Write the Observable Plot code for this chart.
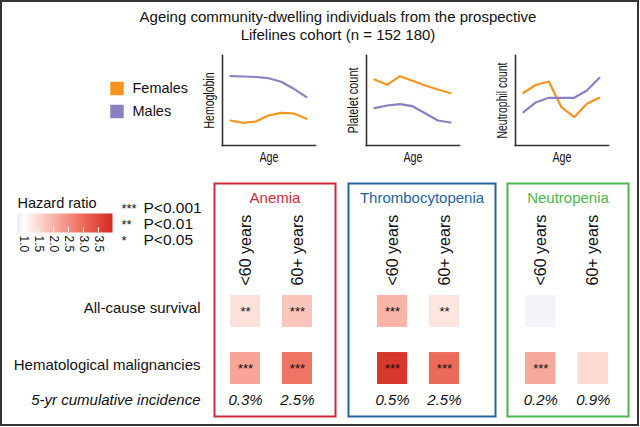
<!DOCTYPE html>
<html><head><meta charset="utf-8">
<script src="https://cdn.jsdelivr.net/npm/d3@7"></script>
<script src="https://cdn.jsdelivr.net/npm/@observablehq/plot@0.6"></script>
<style>
html,body{margin:0;padding:0;background:#fff;}
#wrap{position:relative;width:640px;height:427px;overflow:hidden;font-family:"Liberation Sans",Arial,sans-serif;color:#111;background:#fff;}
#wrap svg{position:absolute;left:0;top:0;}
#frame{position:absolute;left:0;top:0;width:639px;height:426px;box-sizing:border-box;border:2px solid #333;pointer-events:none;}
#title{position:absolute;left:38px;top:8px;width:600px;text-align:center;font-size:15px;line-height:18px;}
</style></head><body>
<div id="wrap"><div id="frame"></div><div id="title">Ageing community-dwelling individuals from the prospective<br>Lifelines cohort (n = 152 180)</div></div>
<script>
// ---------- data ----------
const sexes = ["Females", "Males"];
const ageSteps = [0, 1, 2, 3, 4, 5, 6];
const traits = ["Hemoglobin", "Platelet count", "Neutrophil count"];
const hbFemales = [25, 22.7, 24, 30, 32.7, 32, 26.7];
const hbMales = [69.3, 69, 68.5, 67.3, 63.7, 56.7, 48.3];
const pltFemales = [66, 60.7, 69.3, 64.7, 60, 56, 52.3];
const pltMales = [37.3, 40, 41.3, 39.3, 32.3, 25, 23];
const neuFemales = [52.7, 60.7, 64, 38.3, 28.3, 41.7, 47.7];
const neuMales = [33.3, 43.3, 47.7, 47.7, 47.7, 55, 67.7];

const diseases = ["Anemia", "Thrombocytopenia", "Neutropenia"];
const ageGroups = ["<60 years", "60+ years"];
const outcomes = ["All-cause survival", "Hematological malignancies"];
// order: Anemia <60, Anemia 60+, Thrombo <60, Thrombo 60+, Neutro <60, Neutro 60+
const hrAllCause = [1.4, 1.77, 2.0, 1.35, 0.9, null];
const hrHeme = [2.2, 2.86, 3.77, 3.0, 2.15, 1.5];
const starsAllCause = ["**", "***", "***", "**", "", ""];
const starsHeme = ["***", "***", "***", "***", "***", ""];
const incidence = ["0.3%", "2.5%", "0.5%", "2.5%", "0.2%", "0.9%"];

const hrTicks = [1.0, 1.5, 2.0, 2.5, 3.0, 3.5];
const sigStars = ["***", "**", "*"];
const sigLabels = ["P<0.001", "P<0.01", "P<0.05"];

// ---------- styles ----------
const W = 640, H = 427;
const FONT = '"Liberation Sans", Arial, Helvetica, sans-serif';
const sexColor = {domain: sexes, range: ["#f7941d", "#8b80c3"]};
const hrColor = {type: "linear", domain: [0.8, 1, 2, 3, 3.97],
  range: ["#e6e6f2", "#ffffff", "#f8b4a6", "#ec6a59", "#d32a20"], interpolate: "rgb"};
const diseaseColors = ["#cf2a3c", "#23649e", "#4bb74c"];
const traitLabelLengths = [56, 66, 76];
const wrap = document.getElementById("wrap");
function base(extra) {
  return Object.assign({width: W, height: H,
    style: {fontFamily: FONT, background: "transparent", overflow: "visible"}}, extra);
}
function add(svg) { wrap.appendChild(svg); return svg; }
// condense a text (the reference uses a narrow face)
function condense(svg, str, len) {
  d3.select(svg).selectAll("text").filter(function() { return this.textContent === str; })
    .attr("textLength", len).attr("lengthAdjust", "spacingAndGlyphs");
}

// ---------- mini trend charts ----------
const trendSets = [[hbFemales, hbMales], [pltFemales, pltMales], [neuFemales, neuMales]];
const axisLefts = [222, 366, 515];
traits.forEach((trait, i) => {
  const left = axisLefts[i];
  const rows = [];
  sexes.forEach((s, j) => trendSets[i][j].forEach((v, k) => rows.push({sex: s, step: ageSteps[k], value: v})));
  const svg = add(Plot.plot(base({
    marginLeft: left, marginRight: W - left - 93, marginTop: 55, marginBottom: H - 145,
    x: {domain: [0, 6], insetLeft: 8, insetRight: 9, axis: null},
    y: {domain: [0, 90], axis: null},
    color: sexColor,
    marks: [
      Plot.frame({anchor: "left", stroke: "#333", strokeWidth: 1.6}),
      Plot.frame({anchor: "bottom", stroke: "#333", strokeWidth: 1.6}),
      Plot.line(rows, {x: "step", y: "value", z: "sex", stroke: "sex", strokeWidth: 2.2}),
      Plot.text([trait], {frameAnchor: "left", dx: -13, rotate: -90, textAnchor: "middle", lineAnchor: "middle",
        fontSize: 14.5, fill: "#111"}),
      Plot.text(["Age"], {frameAnchor: "bottom", dy: 12, textAnchor: "middle", lineAnchor: "middle",
        fontSize: 14, fill: "#111"})
    ]
  })));
  condense(svg, trait, traitLabelLengths[i]);
  condense(svg, "Age", 19);
});

// ---------- sex legend ----------
add(Plot.plot(base({
  marginLeft: 116.5, marginRight: W - 200, marginTop: 78, marginBottom: H - 122,
  y: {type: "point", domain: sexes, range: [88, 111], padding: 0, axis: null},
  color: sexColor,
  marks: [
    Plot.dot(sexes, {y: d => d, frameAnchor: "left", symbol: "square", r: 7.6, fill: d => d}),
    Plot.text(sexes, {y: d => d, frameAnchor: "left", dx: 15.5, textAnchor: "start", lineAnchor: "middle",
      fontSize: 14.5, fill: "#111"})
  ]
})));

// ---------- hazard ratio legend ----------
add(Plot.plot(base({
  marginLeft: 17, marginRight: W - 112, marginTop: 213, marginBottom: H - 232,
  x: {domain: [0.8, 3.97], axis: null},
  y: {domain: [0, 1], axis: null},
  color: hrColor,
  marks: [
    Plot.raster({fill: (x, y) => x, x1: 0.8, x2: 3.97, y1: 0, y2: 1, width: 190, height: 1}),
    Plot.ruleX(hrTicks, {x: d => d, y1: 0, y2: 0.25, stroke: "white", strokeWidth: 1}),
    Plot.text(hrTicks, {x: d => d, frameAnchor: "bottom", dy: 3, rotate: 90, textAnchor: "start",
      lineAnchor: "middle", fontSize: 12, text: d => d.toFixed(1), fill: "#111"}),
    Plot.text(["Hazard ratio"], {frameAnchor: "top-left", dy: -10, textAnchor: "start", lineAnchor: "middle",
      fontSize: 14.5, fill: "#111"})
  ]
})));

// ---------- significance legend ----------
add(Plot.plot(base({
  marginLeft: 121, marginRight: W - 210, marginTop: 200, marginBottom: H - 248,
  y: {type: "point", domain: sigStars, range: [207, 240], padding: 0, axis: null},
  marks: [
    Plot.text(sigStars, {y: d => d, frameAnchor: "left", textAnchor: "start", lineAnchor: "middle",
      fontSize: 13, fill: "#111"}),
    Plot.text(sigStars, {y: d => d, frameAnchor: "left", dx: 22, textAnchor: "start", lineAnchor: "middle",
      fontSize: 15.5, text: (d, i) => sigLabels[i], fill: "#111"})
  ]
})));

// ---------- row labels ----------
const yBand = {type: "band", domain: outcomes, range: [295, 384], paddingInner: 0.44, paddingOuter: 0, round: false, axis: null};
add(Plot.plot(base({
  marginLeft: 0, marginRight: W - 200, marginTop: 183, marginBottom: H - 416,
  y: yBand,
  marks: [
    Plot.text(outcomes, {y: d => d, frameAnchor: "right", textAnchor: "end", lineAnchor: "middle", dy: -3,
      fontSize: 15, fill: "#111"}),
    Plot.text(["5-yr cumulative incidence"], {frameAnchor: "bottom-right", textAnchor: "end", lineAnchor: "middle",
      dy: -16, fontSize: 15, fontStyle: "italic", fill: "#111"})
  ]
})));

// ---------- heatmap boxes ----------
const boxes = [[214, 335], [348, 495], [507, 628]];
const cellSpans = [[230, 312], [377, 459], [525, 608]];
diseases.forEach((dz, i) => {
  const rows = [];
  ageGroups.forEach((a, j) => {
    const k = i * 2 + j;
    if (hrAllCause[k] != null) rows.push({age: a, outcome: outcomes[0], hr: hrAllCause[k], stars: starsAllCause[k]});
    if (hrHeme[k] != null) rows.push({age: a, outcome: outcomes[1], hr: hrHeme[k], stars: starsHeme[k]});
  });
  const inc = ageGroups.map((a, j) => ({age: a, text: incidence[i * 2 + j]}));
  add(Plot.plot(base({
    marginLeft: boxes[i][0], marginRight: W - boxes[i][1], marginTop: 183, marginBottom: H - 416,
    x: {type: "band", domain: ageGroups, range: cellSpans[i], paddingInner: 0.42, paddingOuter: 0, round: false, axis: null},
    y: yBand,
    color: hrColor,
    marks: [
      Plot.frame({stroke: diseaseColors[i], strokeWidth: 2}),
      Plot.text([dz], {frameAnchor: "top", dy: 15, textAnchor: "middle", lineAnchor: "middle",
        fontSize: 15, fill: diseaseColors[i]}),
      Plot.text(ageGroups, {x: d => d, frameAnchor: "top", dy: 102, rotate: -90, textAnchor: "start",
        lineAnchor: "middle", fontSize: 16, fill: "#111"}),
      Plot.cell(rows, {x: "age", y: "outcome", fill: "hr", inset: 0}),
      Plot.text(rows.filter(d => d.stars), {x: "age", y: "outcome", text: "stars", lineAnchor: "middle",
        fontSize: 13, fill: "#111"}),
      Plot.text(inc, {x: "age", text: "text", frameAnchor: "bottom", dy: -16, textAnchor: "middle",
        lineAnchor: "middle", fontSize: 15, fontStyle: "italic", fill: "#111"})
    ]
  })));
});
</script>
</body></html>
